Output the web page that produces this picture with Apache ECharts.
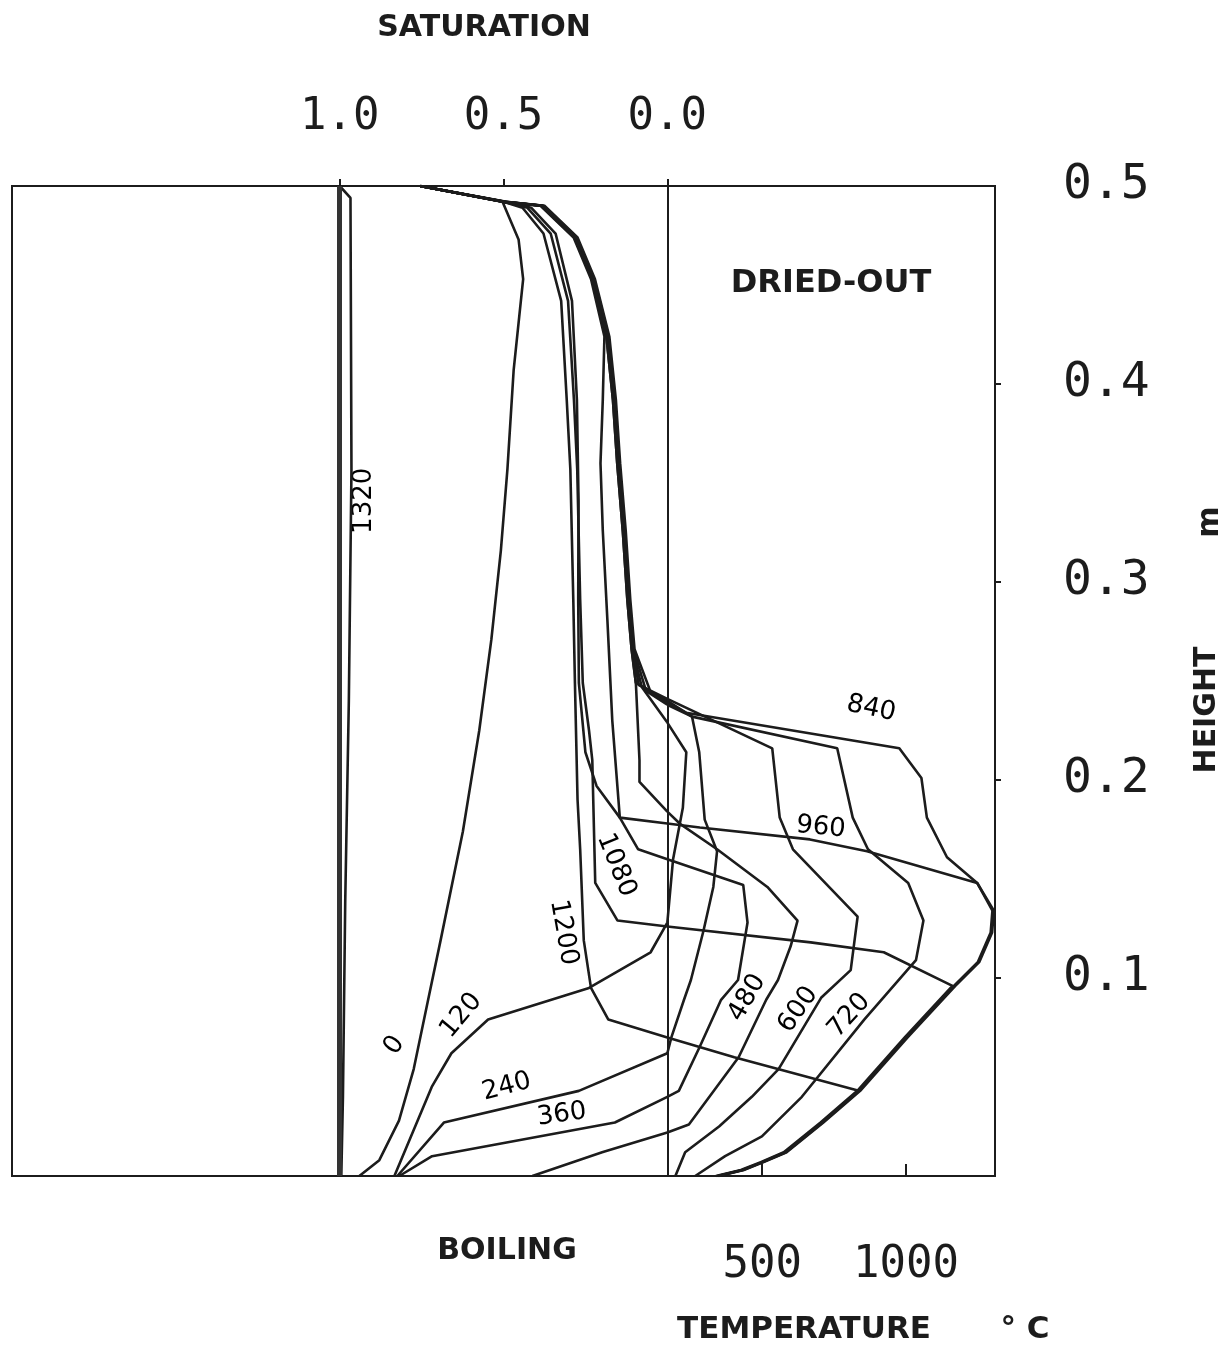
<!DOCTYPE html>
<html>
<head>
<meta charset="utf-8">
<title>Saturation and temperature profiles</title>
<script src="https://cdn.jsdelivr.net/npm/echarts@6/dist/echarts.min.js"></script>
<style>
  html, body { margin: 0; padding: 0; background: #fff; }
  #chart { width: 1229px; height: 1351px; }
</style>
</head>
<body>
<div id="chart"></div>
<script>
// wet parts: [saturation, height m]   dry parts: [temperature C, height m]
var S0 = [[0.754,0.5],[0.503,0.492],[0.454,0.473],[0.440,0.453],[0.452,0.434],[0.469,0.407],[0.488,0.357],[0.508,0.316],[0.537,0.271],[0.574,0.225],[0.624,0.174],[0.692,0.119],[0.730,0.089],[0.774,0.054],[0.819,0.028],[0.879,0.008],[0.940,0]];

var S120a = [[0.754,0.5],[0.497,0.492],[0.381,0.490],[0.280,0.474],[0.227,0.453],[0.183,0.424],[0.163,0.392],[0.150,0.360],[0.133,0.326],[0.119,0.291],[0.106,0.266],[0.078,0.247],[0,0.229]];
var T120 = [[170,0.229],[236,0.214],[224,0.186],[190,0.160],[170,0.128]];
var S120b = [[0,0.128],[0.051,0.113],[0.239,0.095],[0.547,0.079],[0.659,0.062],[0.719,0.045],[0.833,0]];

var S240a = [[0.754,0.5],[0.500,0.492],[0.384,0.490],[0.283,0.474],[0.230,0.453],[0.186,0.424],[0.166,0.392],[0.153,0.360],[0.136,0.326],[0.122,0.291],[0.109,0.266],[0.096,0.249],[0,0.240]];
var T240 = [[170,0.240],[256,0.232],[281,0.214],[300,0.180],[343,0.164],[330,0.146],[296,0.124],[252,0.099],[228,0.089],[184,0.070],[170,0.062]];
var S240b = [[0,0.062],[0.270,0.043],[0.682,0.027],[0.824,0]];

var S360a = [[0.754,0.5],[0.503,0.492],[0.387,0.490],[0.286,0.474],[0.233,0.453],[0.192,0.424],[0.197,0.392],[0.204,0.360],[0.197,0.326],[0.183,0.281],[0.168,0.230],[0.145,0.181],[0.089,0.165],[0,0.160]];
var T360 = [[170,0.160],[434,0.147],[449,0.128],[416,0.099],[357,0.089],[282,0.065],[210,0.043],[170,0.040]];
var S360b = [[0,0.040],[0.160,0.027],[0.718,0.010],[0.818,0]];

var S480a = [[0.754,0.5],[0.500,0.492],[0.384,0.490],[0.283,0.474],[0.230,0.453],[0.186,0.424],[0.166,0.392],[0.153,0.360],[0.136,0.326],[0.122,0.291],[0.109,0.266],[0.096,0.249],[0.085,0.210],[0.085,0.199],[0,0.184]];
var T480 = [[170,0.184],[213,0.178],[343,0.165],[518,0.146],[623,0.129],[599,0.116],[555,0.099],[514,0.089],[418,0.060],[245,0.026],[170,0.022]];
var S480b = [[0,0.022],[0.199,0.012],[0.412,0]];

var S600a = [[0.754,0.5],[0.497,0.492],[0.381,0.490],[0.280,0.474],[0.227,0.453],[0.183,0.424],[0.163,0.392],[0.150,0.360],[0.133,0.326],[0.119,0.291],[0.106,0.266],[0.087,0.248],[0,0.241]];
var T600 = [[170,0.241],[535,0.216],[561,0.181],[607,0.165],[832,0.131],[808,0.104],[705,0.090],[557,0.054],[464,0.040],[350,0.025],[232,0.012],[198,0]];

var S720a = [[0.754,0.5],[0.494,0.492],[0.378,0.490],[0.277,0.474],[0.224,0.453],[0.180,0.424],[0.160,0.392],[0.147,0.360],[0.130,0.326],[0.116,0.291],[0.103,0.266],[0.065,0.245],[0,0.238]];
var T720 = [[170,0.238],[256,0.232],[761,0.216],[815,0.181],[868,0.165],[1008,0.148],[1061,0.129],[1035,0.109],[855,0.079],[638,0.040],[499,0.020],[371,0.010],[267,0]];

var S840a = [[0.754,0.5],[0.491,0.492],[0.375,0.490],[0.274,0.474],[0.221,0.453],[0.177,0.424],[0.157,0.392],[0.144,0.360],[0.127,0.326],[0.113,0.291],[0.100,0.266],[0.050,0.244],[0,0.239]];
var T840 = [[170,0.239],[235,0.234],[977,0.216],[1054,0.201],[1073,0.181],[1143,0.161],[1248,0.148],[1301,0.134],[1295,0.123],[1250,0.108],[1167,0.096],[1001,0.070],[836,0.043],[708,0.027],[580,0.012],[500,0.007],[431,0.003],[344,0]];

var S960a = [[0.754,0.5],[0.500,0.492],[0.415,0.489],[0.341,0.476],[0.291,0.442],[0.276,0.392],[0.271,0.341],[0.272,0.291],[0.270,0.249],[0.250,0.214],[0.216,0.197],[0.145,0.181],[0,0.178]];
var T960 = [[170,0.178],[283,0.176],[666,0.170],[865,0.164],[1248,0.148],[1306,0.134],[1300,0.123],[1255,0.108],[1172,0.096],[1006,0.070],[841,0.043],[713,0.027],[585,0.012],[505,0.007],[436,0.003],[350,0]];

var S1080a = [[0.754,0.5],[0.500,0.492],[0.427,0.489],[0.356,0.476],[0.303,0.442],[0.285,0.392],[0.275,0.357],[0.266,0.291],[0.258,0.249],[0.239,0.225],[0.229,0.210],[0.220,0.148],[0.152,0.129],[0,0.126]];
var T1080 = [[170,0.126],[669,0.118],[923,0.113],[1162,0.096],[996,0.070],[831,0.043],[703,0.027],[575,0.012],[495,0.007],[426,0.003],[339,0]];

var S1200a = [[0.754,0.5],[0.500,0.492],[0.442,0.489],[0.378,0.476],[0.324,0.442],[0.307,0.392],[0.296,0.357],[0.287,0.291],[0.282,0.249],[0.274,0.190],[0.266,0.165],[0.255,0.119],[0.233,0.095],[0.180,0.079],[0,0.070]];
var T1200 = [[170,0.070],[403,0.060],[836,0.043],[710,0.027],[582,0.012],[502,0.007],[433,0.003],[347,0]];

var S1320 = [[1.0,0.5],[0.967,0.494],[0.964,0.357],[0.972,0.240],[0.983,0.139],[0.990,0.040],[0.995,0]];

// curve labels: [text, value, height, rotation deg]
var satLabels = [['1320',0.925,0.341,90],['0',0.833,0.066,55],['120',0.629,0.081,50],['240',0.490,0.045,15],['360',0.322,0.031,8],['1200',0.317,0.123,-80],['1080',0.156,0.157,-68]];
var tempLabels = [['480',448,0.090,60],['600',625,0.084,55],['720',803,0.081,48],['840',879,0.236,-12],['960',704,0.176,-6]];

var satTicks = [1.0, 0.5, 0.0];
var tempTicks = [500, 1000];
var heightTicks = [0.1, 0.2, 0.3, 0.4];
var heightLabels = [0.1, 0.2, 0.3, 0.4, 0.5];

var INK = '#1c1c1c';
var MONO = '"DejaVu Sans Mono", monospace';
var SANS = '"DejaVu Sans", sans-serif';

var wetParts = [S0, S120a, S120b, S240a, S240b, S360a, S360b, S480a, S480b, S600a, S720a, S840a, S960a, S1080a, S1200a, S1320];
var dryParts = [T120, T240, T360, T480, T600, T720, T840, T960, T1080, T1200];

var chart = echarts.init(document.getElementById('chart'));

var series = [];
wetParts.forEach(function (d) {
  series.push({
    type: 'line', xAxisIndex: 0, yAxisIndex: 0, data: d,
    showSymbol: false, silent: true,
    lineStyle: { color: INK, width: 2.6 }
  });
});
dryParts.forEach(function (d) {
  series.push({
    type: 'line', xAxisIndex: 1, yAxisIndex: 0, data: d,
    showSymbol: false, silent: true,
    lineStyle: { color: INK, width: 2.6 }
  });
});

// boiling line (s = 0) and full saturation line (s = 1)
series[0].markLine = {
  symbol: ['none', 'none'], silent: true, label: { show: false },
  data: [
    { xAxis: 0, lineStyle: { color: INK, width: 2, type: 'solid' } },
    { xAxis: 1, lineStyle: { color: '#333', width: 5, type: 'solid' } }
  ]
};

function labelData(list) {
  return list.map(function (l) {
    return {
      value: [l[1], l[2]],
      label: { show: true, formatter: l[0], rotate: l[3], position: 'inside' }
    };
  });
}
var labelStyle = { color: '#000', fontFamily: SANS, fontSize: 26, fontWeight: 'normal',
  textBorderWidth: 0, opacity: 1 };
series.push({
  type: 'scatter', xAxisIndex: 0, yAxisIndex: 0, symbolSize: 0, silent: true,
  data: labelData(satLabels), label: labelStyle
});
series.push({
  type: 'scatter', xAxisIndex: 1, yAxisIndex: 0, symbolSize: 0, silent: true,
  data: labelData(tempLabels), label: labelStyle
});

function txt(text, x, y, size, rot) {
  return {
    type: 'text', x: x, y: y, rotation: rot || 0, silent: true,
    style: { text: text, x: 0, y: 0, align: 'center', verticalAlign: 'middle',
      font: 'bold ' + size + 'px ' + SANS, fill: INK }
  };
}

var option = {
  animation: false,
  backgroundColor: '#fff',
  grid: { left: 12, right: 234, top: 186, bottom: 175, show: true,
    borderColor: INK, borderWidth: 2, containLabel: false, outerBoundsMode: 'none' },
  xAxis: [
    {
      type: 'value', position: 'top', inverse: true, min: -1, max: 2, interval: 0.5,
      axisLine: { show: false, onZero: false }, splitLine: { show: false },
      axisTick: { show: true, customValues: satTicks, length: 7, lineStyle: { color: INK, width: 2 } },
      axisLabel: { customValues: satTicks, formatter: function (v) { return v.toFixed(1); },
        margin: 46, fontFamily: MONO, fontSize: 44, color: INK }
    },
    {
      type: 'value', position: 'bottom', min: -2110, max: 1310,
      axisLine: { show: false, onZero: false }, splitLine: { show: false },
      axisTick: { show: true, inside: true, customValues: tempTicks, length: 12, lineStyle: { color: INK, width: 2 } },
      axisLabel: { customValues: tempTicks, formatter: function (v) { return String(v); },
        margin: 68, fontFamily: MONO, fontSize: 44, color: INK }
    }
  ],
  yAxis: [
    {
      type: 'value', position: 'right', min: 0, max: 0.5, interval: 0.1,
      axisLine: { show: false, onZero: false }, splitLine: { show: false },
      axisTick: { show: true, customValues: heightTicks, length: 6, lineStyle: { color: INK, width: 2 } },
      axisLabel: { customValues: heightLabels, formatter: function (v) { return v.toFixed(1); },
        margin: 68, fontFamily: MONO, fontSize: 48, color: INK }
    }
  ],
  graphic: [
    txt('SATURATION', 484, 28, 30),
    txt('DRIED-OUT', 831, 284, 32),
    txt('BOILING', 507, 1251, 30),
    txt('TEMPERATURE', 804, 1330, 31),
    txt('° C', 1025, 1330, 31),
    txt('HEIGHT', 1207, 710, 30, Math.PI / 2),
    txt('m', 1210, 522, 30, Math.PI / 2)
  ],
  series: series
};

chart.setOption(option);
</script>
</body>
</html>
